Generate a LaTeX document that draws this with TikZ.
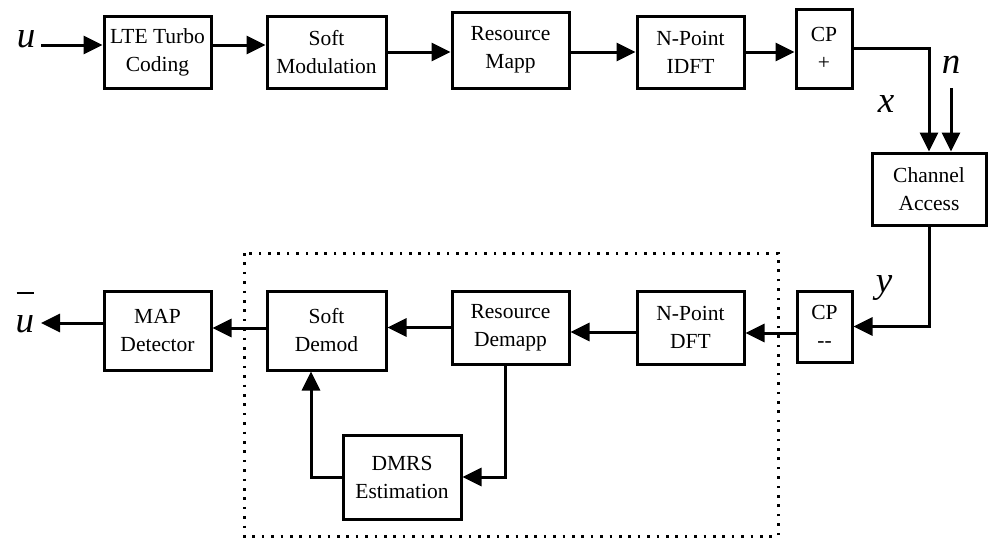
\documentclass[tikz,border=0pt]{standalone}
\usepackage{fontspec}
\setmainfont{Liberation Serif}
\usetikzlibrary{arrows.meta}
\begin{document}
\begin{tikzpicture}[x=1pt,y=-1pt,
  blk/.style={draw,line width=3pt,inner sep=0pt,align=center,
    font=\fontsize{21.5}{28}\selectfont},
  arr/.style={line width=3pt,-{Triangle[length=19pt,width=18pt]}},
  lbl/.style={inner sep=0pt,anchor=base,font=\fontsize{37}{40}\selectfont\itshape}]
\useasboundingbox (0,0) rectangle (988,538);
% top row
\node[blk,minimum width=107pt,minimum height=72pt] (ltc) at (157.5,52) {LTE Turbo\\Coding};
\node[blk,minimum width=119pt,minimum height=72pt] (smod) at (326.5,52) {Soft\\Modulation};
\node[blk,minimum width=117pt,minimum height=76pt] (rmap) at (510.5,50) {Resource\\Mapp};
\node[blk,minimum width=107pt,minimum height=72pt] (idft) at (690.5,52) {N-Point\\IDFT};
\node[blk,minimum width=56pt,minimum height=79pt] (cpp) at (824,48.5) {CP\\+};
\node[blk,minimum width=114pt,minimum height=72pt] (chan) at (929,189) {Channel\\Access};
% bottom row
\node[blk,minimum width=107pt,minimum height=79pt] (map) at (157.5,330.5) {MAP\\Detector};
\node[blk,minimum width=119pt,minimum height=79pt] (sdem) at (326.5,330.5) {Soft\\Demod};
\node[blk,minimum width=117pt,minimum height=73pt] (rdem) at (510.5,327.5) {Resource\\Demapp};
\node[blk,minimum width=107pt,minimum height=73pt] (dft) at (690.5,327.5) {N-Point\\DFT};
\node[blk,minimum width=55pt,minimum height=71pt] (cpm) at (824.5,326.5) {CP\\{-}{-}};
\node[blk,minimum width=118pt,minimum height=84pt] (dmrs) at (402,477) {DMRS\\Estimation};
% labels
\node[lbl] (lu) at (26,47) {u};
\node[lbl] (ln) at (951,73) {n};
\node[lbl] (lx) at (886,112) {x};
\node[lbl] (ly) at (884,292) {y};
\node[lbl] (lub) at (25,332) {\makebox[0pt][l]{\hspace{1pt}\raisebox{38pt}{\rule{17pt}{1.6pt}}}u};
% dotted frame
\draw[line width=3pt,dash pattern=on 2.6pt off 6.8pt] (244,253) rectangle (778,536);
% top arrows
\coordinate (uin) at (41,45);
\draw[arr] (uin) -- (uin -| ltc.west);
\coordinate (a1) at ([yshift=7pt]ltc.east);
\draw[arr] (a1) -- (a1 -| smod.west);
\draw[arr] (smod.east) -- (smod.east -| rmap.west);
\draw[arr] (idft.west -| rmap.east) -- (idft.west);
\draw[arr] (idft.east) -- (idft.east -| cpp.west);
\draw[arr] (cpp.east) -| (chan.north);
\coordinate (nin) at (951,88);
\draw[arr] (nin) -- (nin |- chan.north);
% bottom arrows
\draw[arr] (chan.south) |- (cpm.east);
\coordinate (b1) at ([yshift=-6.5pt]cpm.west);
\draw[arr] (b1) -- (b1 -| dft.east);
\coordinate (b2) at ([yshift=-4.5pt]dft.west);
\draw[arr] (b2) -- (b2 -| rdem.east);
\draw[arr] (rdem.west) -- (rdem.west -| sdem.east);
\coordinate (b3) at ([yshift=2.5pt]sdem.west);
\draw[arr] (b3) -- (b3 -| map.east);
\coordinate (b4) at ([yshift=7.5pt]map.west);
\coordinate (uout) at (41,323);
\draw[arr] (b4) -- (uout);
\draw[arr] ([xshift=-5.5pt]rdem.south) |- (dmrs.east);
\draw[arr] (dmrs.west) -| ([xshift=-15.5pt]sdem.south);
\end{tikzpicture}
\end{document}
